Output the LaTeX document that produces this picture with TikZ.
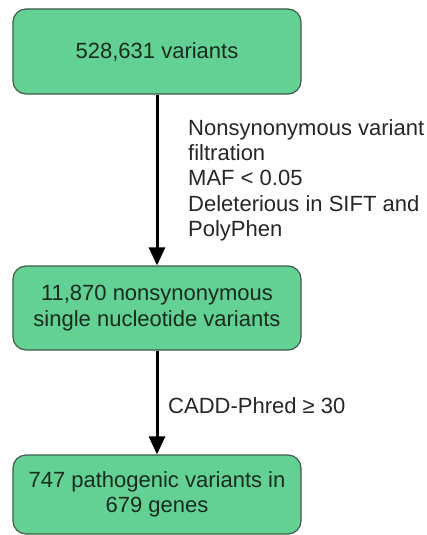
\documentclass[tikz,border=0pt]{standalone}
\usepackage{fontspec}
\setmainfont{Liberation Sans}
\usetikzlibrary{arrows.meta}
\definecolor{boxfill}{RGB}{99,209,148}
\definecolor{boxdraw}{RGB}{62,92,72}
\definecolor{boxtext}{RGB}{22,44,30}
\tikzset{
  stepbox/.style={draw=boxdraw, line width=1.2pt, fill=boxfill, rounded corners=13pt,
    minimum width=288pt, inner sep=0pt, align=center, text=boxtext,
    font=\fontsize{22}{25.3}\selectfont},
  flowarrow/.style={line width=3pt, -{Triangle[width=16pt,length=18pt]}},
  sidelabel/.style={anchor=north west, inner sep=0pt, align=left, text=black!85,
    font=\fontsize{22}{25.3}\selectfont}
}
\begin{document}
\begin{tikzpicture}[x=1pt,y=-1pt]
\useasboundingbox (0,0) rectangle (426,535);
\node[stepbox, minimum height=85pt] (b1) at (157,51.5) {528,631 variants};
\node[stepbox, minimum height=84pt] (b2) at (157,308) {11,870 nonsynonymous\\single nucleotide variants};
\node[stepbox, minimum height=79pt] (b3) at (157,494.5) {747 pathogenic variants in\\679 genes};
\draw[flowarrow] (b1.south) -- (b2.north);
\draw[flowarrow] (b2.south) -- (b3.north);
\node[sidelabel] (l1) at (188,119) {Nonsynonymous variant\\filtration\\MAF < 0.05\\Deleterious in SIFT and\\PolyPhen};
\node[sidelabel] (l2) at (168,397) {CADD-Phred ≥ 30};
\end{tikzpicture}
\end{document}
